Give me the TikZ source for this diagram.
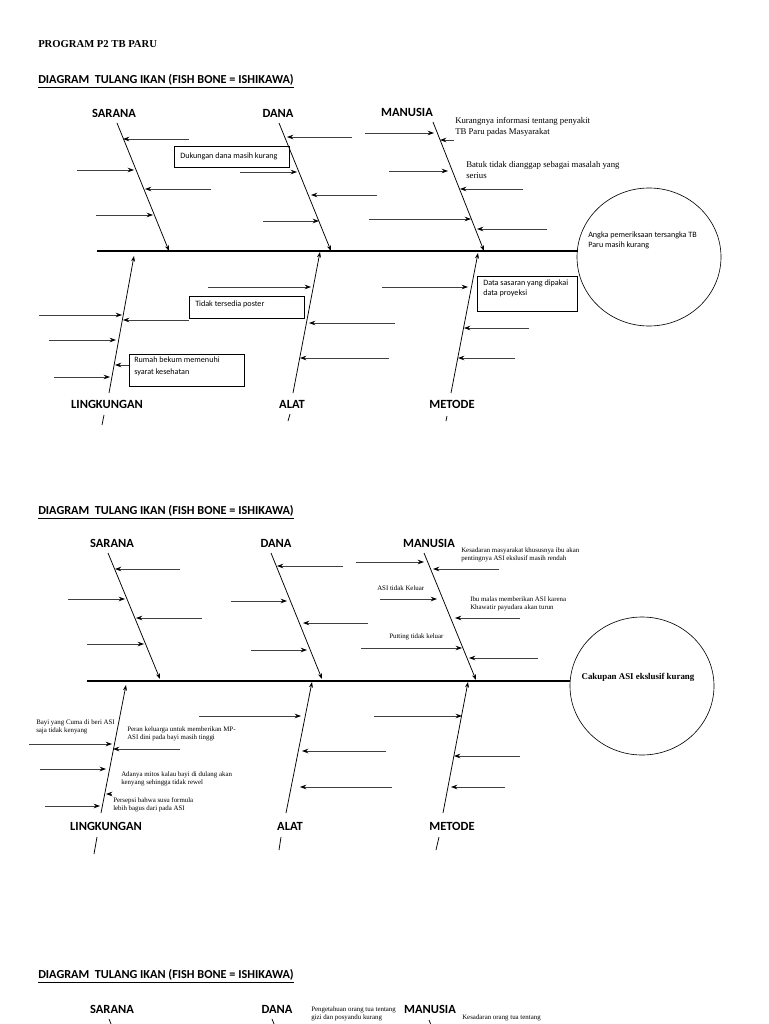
\documentclass[tikz,border=0pt]{standalone}
\usepackage{fontspec}
\setmainfont{Liberation Serif}
\newfontfamily\calfont{Carlito}
\usetikzlibrary{arrows.meta}

\begin{document}
\begin{tikzpicture}[x=0.8pt,y=-0.8pt,
        bone/.style={line width=0.6pt},
        spine/.style={line width=1.3pt},
        rib/.style={line width=0.6pt,black!75,-{Stealth[length=5pt,width=3.6pt,black]}},
        tip/.style={-{Stealth[length=4.5pt,width=3.2pt]}},
        catlabel/.style={font=\calfont\bfseries\fontsize{10}{12}\selectfont},
        heading/.style={anchor=west,inner sep=0pt,font=\calfont\bfseries\fontsize{9.8}{12}\selectfont},
        boxtext/.style={anchor=west,inner sep=0pt,align=left,font=\calfont\fontsize{6.5}{8.5}\selectfont},
        notetext/.style={anchor=west,inner sep=0pt,align=left,font=\fontsize{7}{8.5}\selectfont},
        smallnote/.style={anchor=west,inner sep=0pt,align=left,font=\fontsize{5.5}{6.4}\selectfont}]
        \useasboundingbox (0,0) rectangle (768,1024);
        \clip (0,0) rectangle (768,1024);

        % Page title
        \node[anchor=west,inner sep=0pt,font=\bfseries\fontsize{8.5}{10}\selectfont] (title) at (38,44) {PROGRAM P2 TB PARU};

        %% ---------- first diagram ----------
        \node[heading] (headA) at (38,81) {\underline{DIAGRAM\ \ TULANG IKAN (FISH BONE = ISHIKAWA)}};

        % Categories
        \node[catlabel] (saranaA) at (114,113) {SARANA};
        \node[catlabel] (danaA) at (278,113) {DANA};
        \node[catlabel] (manusiaA) at (407,112) {MANUSIA};
        \node[catlabel] (lingA) at (107,404) {LINGKUNGAN};
        \node[catlabel] (alatA) at (292,404) {ALAT};
        \node[catlabel] (metodeA) at (452,404) {METODE};

        % Head of the fish
        \draw[line width=0.5pt] (649,257) ellipse [x radius=72, y radius=69];
        \node[boxtext,font=\calfont\fontsize{6.5}{7.4}\selectfont] (effectA) at (588,240.5) {Angka pemeriksaan tersangka TB\\Paru masih kurang};

        % Spine
        \draw[spine] (97,251) -- (578,251);

        % Bones
        \coordinate (s1t) at (117,123); \coordinate (s1b) at (169,251);
        \coordinate (d1t) at (279,123); \coordinate (d1b) at (331,251);
        \coordinate (m1t) at (433,122); \coordinate (m1b) at (484,251);
        \coordinate (l1t) at (134,256); \coordinate (l1b) at (109,393);
        \coordinate (a1t) at (320,252); \coordinate (a1b) at (293,393);
        \coordinate (t1t) at (478,253); \coordinate (t1b) at (451,393);
        \draw[bone,tip] (s1t) -- (s1b);
        \draw[bone,tip] (d1t) -- (d1b);
        \draw[bone,tip] (m1t) -- (m1b);
        \draw[bone,tip] (l1b) -- (l1t);
        \draw[bone,tip] (a1b) -- (a1t);
        \draw[bone,tip] (t1b) -- (t1t);
        \draw[bone] (104,415) -- (102,425);
        \draw[bone] (290,414) -- (288,421);
        \draw[bone] (447,416) -- (446,421);

        % Sarana
        \draw[rib] (189,139) -- (123,139);
        \draw[rib] (77,170) -- (134,170);
        \draw[rib] (211,189) -- (145,189);
        \draw[rib] (96,215) -- (153,215);

        % Dana
        \draw[line width=0.6pt] (174,146) rectangle (289,167);
        \node[boxtext] (dukungan) at (180,156) {Dukungan dana masih kurang};
        \draw[rib] (352,137) -- (287,137);
        \draw[rib] (240,172) -- (297,172);
        \draw[rib] (377,195) -- (311,195);
        \draw[rib] (263,221) -- (319,221);

        % Manusia
        \node[notetext] (kurang) at (455,127) {Kurangnya informasi tentang penyakit\\TB Paru padas Masyarakat};
        \node[notetext,font=\fontsize{7}{8.8}\selectfont] (batuk) at (466,170.5) {Batuk tidak dianggap sebagai masalah yang\\serius};
        \draw[rib] (365,133) -- (434,133);
        \draw[rib] (454,140) -- (440,140);
        \draw[rib] (389,171) -- (448,171);
        \draw[rib] (523,189) -- (460,189);
        \draw[rib] (369,219) -- (471,219);
        \draw[rib] (547,229) -- (477,229);

        % Lingkungan
        \draw[line width=0.6pt] (129,354) rectangle (244,386);
        \node[boxtext,font=\calfont\fontsize{6.5}{9.6}\selectfont] (rumah) at (134,366) {Rumah bekum memenuhi\\syarat kesehatan};
        \draw[rib] (39,315) -- (122,315);
        \draw[rib] (189,320) -- (123,320);
        \draw[rib] (49,340) -- (116,340);
        \draw[rib] (129,365) -- (115,365);
        \draw[rib] (54,377) -- (110,377);

        % Alat
        \draw[line width=0.6pt] (189,296) rectangle (304,318);
        \node[boxtext] (poster) at (195,304) {Tidak tersedia poster};
        \draw[rib] (208,287) -- (311,287);
        \draw[rib] (395,323) -- (309,323);
        \draw[rib] (389,358) -- (300,358);

        % Metode
        \draw[line width=0.6pt] (477,276) rectangle (577,311);
        \node[boxtext,font=\calfont\fontsize{6.5}{8}\selectfont] (sasaran) at (483,288) {Data sasaran yang dipakai\\data proyeksi};
        \draw[rib] (382,287) -- (468,287);
        \draw[rib] (529,328) -- (464,328);
        \draw[rib] (515,358) -- (458,358);

        %% ---------- second diagram ----------
        \node[heading] (headB) at (38,512) {\underline{DIAGRAM\ \ TULANG IKAN (FISH BONE = ISHIKAWA)}};

        % Categories
        \node[catlabel] (saranaB) at (112,543) {SARANA};
        \node[catlabel] (danaB) at (276,543) {DANA};
        \node[catlabel] (manusiaB) at (429,543) {MANUSIA};
        \node[catlabel] (lingB) at (106,826) {LINGKUNGAN};
        \node[catlabel] (alatB) at (290,826) {ALAT};
        \node[catlabel] (metodeB) at (452,826) {METODE};

        % Head of the fish
        \draw[line width=0.5pt] (642,686) ellipse [x radius=72, y radius=69];
        \node[inner sep=0pt,font=\bfseries\fontsize{7.1}{9}\selectfont] (effectB) at (638,677) {Cakupan ASI ekslusif kurang};

        % Spine
        \draw[line width=2pt] (87,681) -- (570,681);

        % Bones
        \coordinate (s2t) at (108,553); \coordinate (s2b) at (160,679);
        \coordinate (d2t) at (271,553); \coordinate (d2b) at (322,679);
        \coordinate (m2t) at (424,553); \coordinate (m2b) at (476,680);
        \coordinate (l2t) at (126,685); \coordinate (l2b) at (101,813);
        \coordinate (a2t) at (312,682); \coordinate (a2b) at (286,813);
        \coordinate (t2t) at (468,682); \coordinate (t2b) at (443,813);
        \draw[bone,tip] (s2t) -- (s2b);
        \draw[bone,tip] (d2t) -- (d2b);
        \draw[bone,tip] (m2t) -- (m2b);
        \draw[bone,tip] (l2b) -- (l2t);
        \draw[bone,tip] (a2b) -- (a2t);
        \draw[bone,tip] (t2b) -- (t2t);
        \draw[bone] (97,837) -- (94,854);
        \draw[bone] (281,837) -- (279,850);
        \draw[bone] (439,837) -- (436,850);

        % Sarana
        \draw[rib] (180,569) -- (115,569);
        \draw[rib] (68,599) -- (125,599);
        \draw[rib] (202,618) -- (136,618);
        \draw[rib] (87,644) -- (144,644);

        % Dana
        \draw[rib] (343,566) -- (277,566);
        \draw[rib] (231,601) -- (287,601);
        \draw[rib] (368,623) -- (303,623);
        \draw[rib] (251,650) -- (307,650);

        % Manusia
        \node[smallnote] (kesadaran) at (461,555) {Kesadaran masyarakat khususnya ibu akan\\pentingnya ASI ekslusif masih rendah};
        \node[smallnote] (keluar) at (377,588) {ASI tidak Keluar};
        \node[smallnote] (malas) at (470,604) {Ibu malas memberikan ASI karena\\Khawatir payudara akan turun};
        \node[smallnote] (putting) at (389,637) {Putting tidak keluar};
        \draw[rib] (356,562) -- (424,562);
        \draw[rib] (499,569) -- (433,569);
        \draw[rib] (380,599) -- (437,599);
        \draw[rib] (520,618) -- (455,618);
        \draw[rib] (361,648) -- (462,648);
        \draw[rib] (538,658) -- (469,658);

        % Lingkungan
        \node[smallnote] (bayi) at (36,726.5) {Bayi yang Cuma di beri ASI\\saja tidak kenyang};
        \node[smallnote] (peran) at (127,734) {Peran keluarga untuk memberikan MP-\\ASI dini pada bayi masih tinggi};
        \node[smallnote] (mitos) at (121,779) {Adanya mitos kalau bayi di dulang akan\\kenyang sehingga tidak rewel};
        \node[smallnote] (persepsi) at (113,804.5) {Persepsi bahwa susu formula\\lebih bagus dari pada ASI};
        \draw[rib] (29,744) -- (112,744);
        \draw[rib] (180,749) -- (113,749);
        \draw[rib] (40,769) -- (106,769);
        \draw[rib] (112,794) -- (106,794);
        \draw[rib] (45,806) -- (100,806);

        % Alat
        \draw[rib] (199,716) -- (301,716);
        \draw[rib] (386,751) -- (302,751);
        \draw[rib] (392,787) -- (300,787);

        % Metode
        \draw[rib] (374,716) -- (462,716);
        \draw[rib] (520,756) -- (454,756);
        \draw[rib] (505,787) -- (451,787);

        %% ---------- third diagram (cut at page end) ----------
        \node[heading] (headC) at (38,976) {\underline{DIAGRAM\ \ TULANG IKAN (FISH BONE = ISHIKAWA)}};
        \node[catlabel] (saranaC) at (112,1009) {SARANA};
        \node[catlabel] (danaC) at (277,1009) {DANA};
        \node[catlabel] (manusiaC) at (430,1009) {MANUSIA};
        \node[smallnote] (gizi) at (311,1014) {Pengetahuan orang tua tentang\\gizi dan posyandu kurang};
        \node[smallnote] (ortu) at (462,1018) {Kesadaran orang tua tentang};
        \draw[bone] (109,1019) -- (161,1145);
        \draw[bone] (272,1019) -- (324,1145);
        \draw[bone] (429,1020) -- (481,1146);
    \end{tikzpicture}
\end{document}
